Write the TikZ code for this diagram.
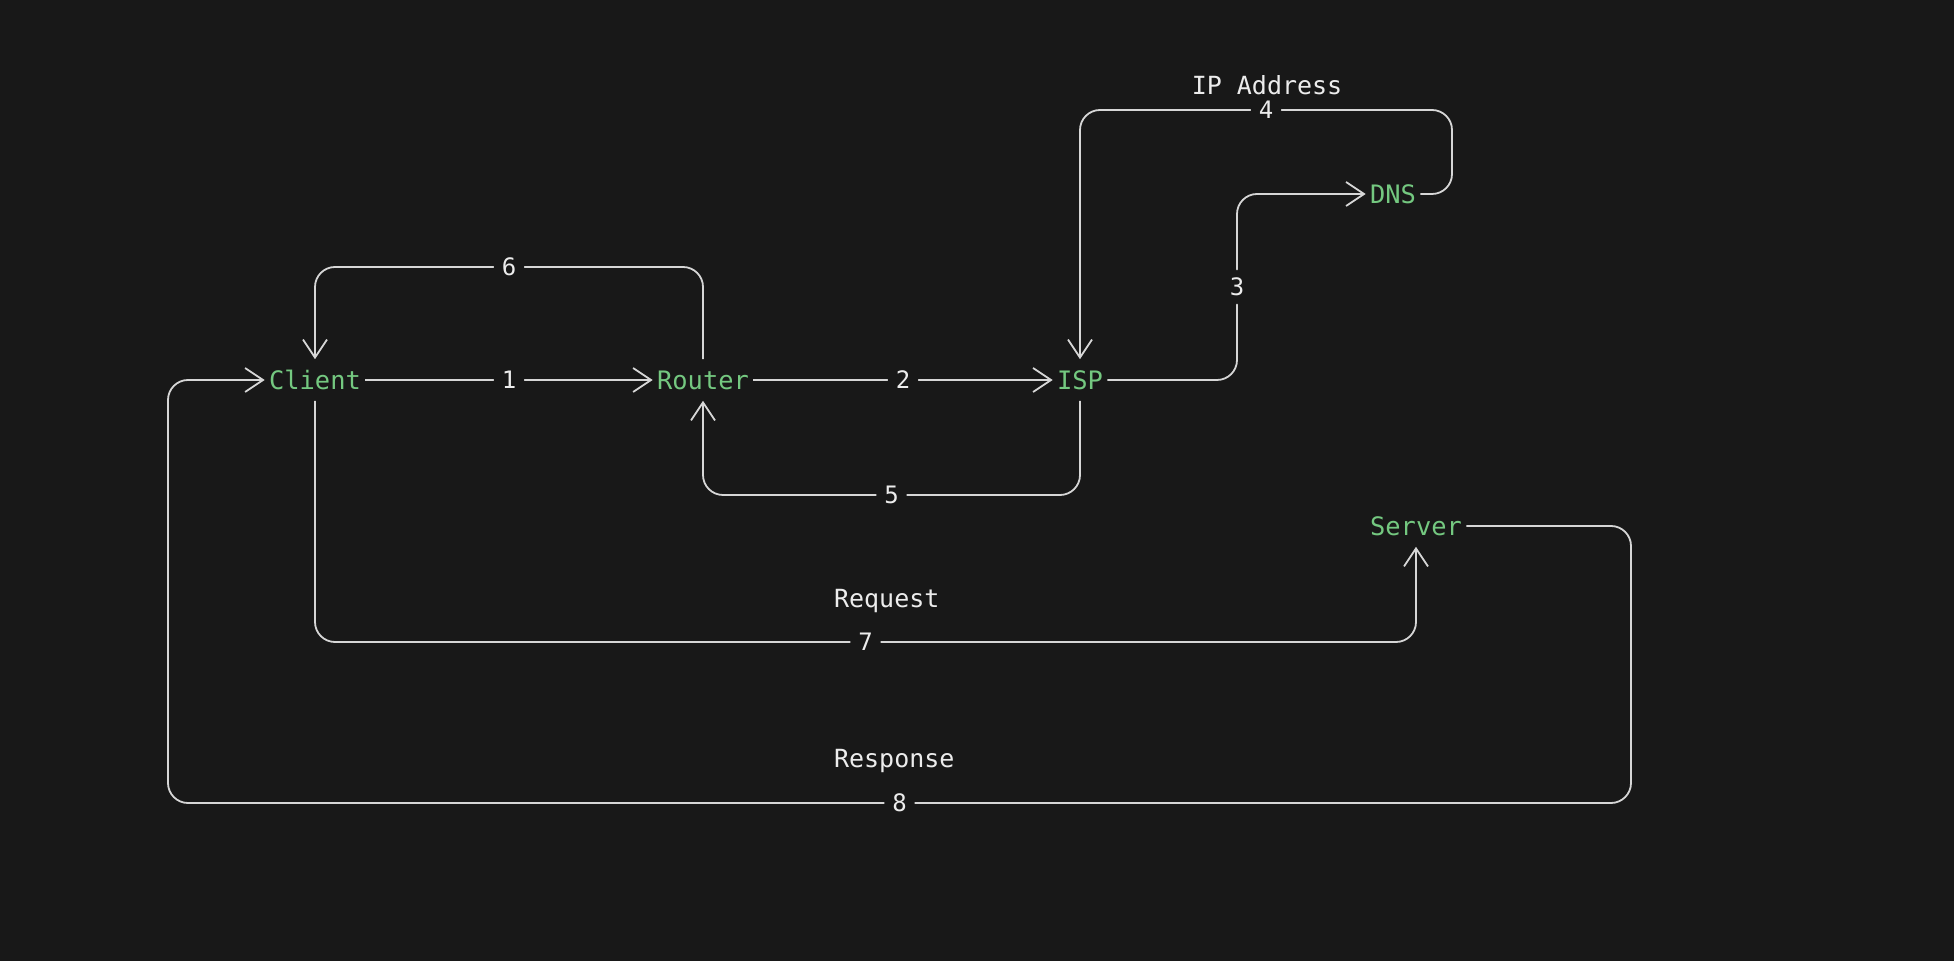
\documentclass[tikz,border=0pt]{standalone}
\usepackage{fontspec}
\setmonofont{DejaVu Sans Mono}
\usepackage{xcolor}
\usetikzlibrary{arrows.meta,positioning}

\definecolor{bgdark}{RGB}{24,24,24}
\definecolor{hostgreen}{RGB}{116,200,128}
\definecolor{wire}{RGB}{214,214,214}
\definecolor{labelwhite}{RGB}{236,236,236}

\begin{document}
\begin{tikzpicture}[x=0.5pt, y=-0.5pt,
  host/.style={font=\ttfamily\fontsize{12.7}{15}\selectfont, text=hostgreen, text height=9.4pt, text depth=0pt, inner xsep=2pt, inner ysep=5.5pt},
  link/.style={draw=wire, line width=0.9pt, rounded corners=10pt, -{Straight Barb[length=9pt,width=12pt,line width=0.9pt]}},
  num/.style={font=\ttfamily\fontsize{12}{14}\selectfont, text=labelwhite, fill=bgdark, inner sep=4pt},
  note/.style={font=\ttfamily\fontsize{12.5}{15}\selectfont, text=labelwhite}]

% Background
\fill[bgdark] (0,0) rectangle (1954,961);

% Hosts
\node[host] (client) at (315,380) {Client};
\node[host] (router) at (703,380) {Router};
\node[host] (isp) at (1080,380) {ISP};
\node[host] (dns) at (1393,194) {DNS};
\node[host] (server) at (1416,526) {Server};

% Bends
\coordinate (c3) at (1237,194);
\coordinate (c4) at (1452,110);
\coordinate (c5) at (703,495);
\coordinate (c6) at (315,267);
\coordinate (c7) at (1416,642);
\coordinate (c8a) at (1631,803);
\coordinate (c8b) at (168,380);

% Client -> Router -> ISP
\draw[link] (client.east) -- node[num] {1} (router.west);
\draw[link] (router.east) -- node[num] {2} (isp.west);

% ISP asks DNS
\draw[link] (isp.east) -| node[num, pos=0.75] {3} (c3) -- (dns.west);

% DNS answers
\draw[link] (dns.east) -| (c4) -| node[num, pos=0.25] (n4) {4} (isp.north);
\node[note] at (1267,85) {IP Address};

% Back to the client
\draw[link] (isp.south) |- node[num, pos=0.75] {5} (c5) -- (router.south);
\draw[link] (router.north) |- node[num, pos=0.75] {6} (c6) -- (client.north);

% Request
\draw[link] (client.south) |- node[num, pos=0.75] {7} (c7) -- (server.south);
\node[note, anchor=west] at (827,601) {Request};

% Response
\draw[link] (server.east) -| (c8a) -| node[num, pos=0.25] {8} (c8b) -- (client.west);
\node[note, anchor=west] at (827,761) {Response};

\end{tikzpicture}
\end{document}
